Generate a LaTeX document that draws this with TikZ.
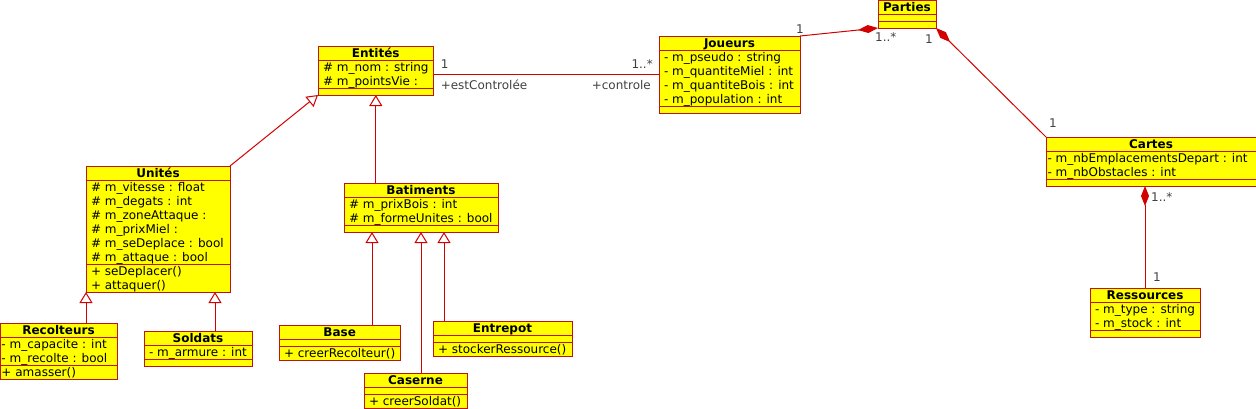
\documentclass[tikz,border=0pt]{standalone}
\usepackage{fontspec}
\setmainfont{DejaVu Sans}
\usetikzlibrary{shapes.multipart,arrows.meta,calc,positioning}

\definecolor{jaune}{RGB}{255,255,0}
\definecolor{bordure}{RGB}{190,20,20}
\definecolor{trait}{RGB}{210,0,0}
\definecolor{gristexte}{RGB}{64,64,64}

\newcommand{\lignes}[1]{\begin{tabular}{@{}l@{}}#1\end{tabular}}
\newcommand{\titre}[1]{\textbf{#1}\strut}

\tikzset{
	classe/.style={rectangle split, rectangle split parts=3,
		rectangle split part align={center,left,left},
		rectangle split empty part height=7pt, rectangle split empty part depth=0pt,
		rectangle split ignore empty parts=false,
		draw=bordure, fill=jaune, line width=1pt, inner xsep=5pt, inner ysep=-0.5pt,
		outer sep=0pt, anchor=north west},
	lien/.style={draw=trait, line width=1pt},
	herite/.style={lien, -{Triangle[open, length=11pt, width=13pt]}},
	compo/.style={lien, {Diamond[length=20pt, width=8pt]}-},
	mult/.style={text=gristexte, inner sep=0pt},
}

\begin{document}
\fontsize{12}{14}\selectfont
\setbox\strutbox\hbox{\vrule height 11pt depth 3pt width 0pt}
\begin{tikzpicture}[x=1pt, y=-1pt]
	\useasboundingbox (0,0) rectangle (1256,408);
	% classes
	\node [classe, minimum width=58pt] (parties) at (878,0) {\titre{Parties}\nodepart{second}\nodepart{third}};
	\node [classe, minimum width=141pt] (joueurs) at (659,36) {\titre{Joueurs}\nodepart{second}\lignes{- m\_pseudo : string\\- m\_quantiteMiel : int\\- m\_quantiteBois : int\\- m\_population : int}\nodepart{third}};
	\node [classe, minimum width=115pt] (entites) at (318,46) {\titre{Entités}\nodepart{second}\lignes{\# m\_nom : string\\\# m\_pointsVie :}\nodepart{third}};
	\node [classe, minimum width=210pt, inner xsep=1.5pt] (cartes) at (1046,137) {\titre{Cartes}\nodepart{second}\lignes{- m\_nbEmplacementsDepart : int\\- m\_nbObstacles : int}\nodepart{third}};
	\node [classe, minimum width=109pt] (ressources) at (1090,288) {\titre{Ressources}\nodepart{second}\lignes{- m\_type : string\\- m\_stock : int}\nodepart{third}};
	\node [classe, minimum width=144pt] (unites) at (86,166) {\titre{Unités}\nodepart{second}\lignes{\# m\_vitesse : float\\\# m\_degats : int\\\# m\_zoneAttaque :\\\# m\_prixMiel :\\\# m\_seDeplace : bool\\\# m\_attaque : bool}\nodepart{third}\lignes{+ seDeplacer()\\+ attaquer()}};
	\node [classe, minimum width=117pt, inner xsep=1.5pt] (recolteurs) at (0,323) {\titre{Recolteurs}\nodepart{second}\lignes{- m\_capacite : int\\- m\_recolte : bool}\nodepart{third}\lignes{+ amasser()}};
	\node [classe, minimum width=108pt] (soldats) at (144,331) {\titre{Soldats}\nodepart{second}\lignes{- m\_armure : int}\nodepart{third}};
	\node [classe, minimum width=154pt] (batiments) at (344,183) {\titre{Batiments}\nodepart{second}\lignes{\# m\_prixBois : int\\\# m\_formeUnites : bool}\nodepart{third}};
	\node [classe, minimum width=121pt] (base) at (279,325) {\titre{Base}\nodepart{second}\nodepart{third}\lignes{+ creerRecolteur()}};
	\node [classe, minimum width=139pt] (entrepot) at (433,321) {\titre{Entrepot}\nodepart{second}\nodepart{third}\lignes{+ stockerRessource()}};
	\node [classe, minimum width=103pt] (caserne) at (364,373) {\titre{Caserne}\nodepart{second}\nodepart{third}\lignes{+ creerSoldat()}};

	% associations
	\draw [lien] (entites.east |- joueurs.west) -- (joueurs.west);
	\node [mult, anchor=base west] (ej1) at ($(entites.east |- joueurs.west)+(7,-6.5)$) {1};
	\node [mult, anchor=base east] (ej2) at ($(joueurs.west)+(-6,-6.5)$) {1..*};
	\node [mult, anchor=base west] (ej3) at ($(entites.east |- joueurs.west)+(7,14.5)$) {+estControlée};
	\node [mult, anchor=base east] (ej4) at ($(joueurs.west)+(-8,14.5)$) {+controle};

	\draw [compo] (parties.south west) -- (joueurs.north east);
	\node [mult, anchor=base west] (jp1) at ($(joueurs.north east)+(-4,-3)$) {1};
	\node [mult, anchor=base west] (jp2) at ($(parties.south west)+(-3,13)$) {1..*};

	\draw [compo] (parties.south east) -- (cartes.north west);
	\node [mult, anchor=base west] (pc1) at ($(parties.south east)+(-11,15)$) {1};
	\node [mult, anchor=base west] (pc2) at ($(cartes.north west)+(3,-10)$) {1};

	\draw [compo] (cartes.south -| ressources.north) -- (ressources.north);
	\node [mult, anchor=base west] (cr1) at ($(cartes.south -| ressources.north)+(6,15)$) {1..*};
	\node [mult, anchor=base west] (cr2) at ($(ressources.north)+(8,-7)$) {1};

	% heritage
	\draw [herite] (unites.north east) -- (entites.south west);
	\draw [herite] (entites.south |- batiments.north) -- (entites.south);
	\draw [herite] (unites.south west |- recolteurs.north) -- (unites.south west);
	\coordinate (s) at ($(soldats.north west)+(71,0)$);
	\draw [herite] (s) -- (s |- unites.south);
	\coordinate (b) at ($(batiments.south west)+(28,0)$);
	\draw [herite] (b |- base.north) -- (b);
	\draw [herite] (caserne.north -| batiments.south) -- (batiments.south);
	\coordinate (t) at ($(batiments.south west)+(100,0)$);
	\draw [herite] (t |- entrepot.north) -- (t);
\end{tikzpicture}
\end{document}
